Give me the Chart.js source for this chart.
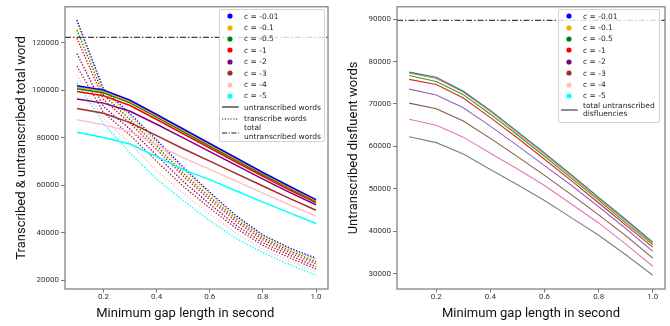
<!DOCTYPE html>
<html>
<head>
<meta charset="utf-8">
<script src="https://cdn.jsdelivr.net/npm/chart.js@4.4.1/dist/chart.umd.min.js"></script>
<style>
  body { margin: 0; background: #fff; width: 670px; height: 326px; overflow: hidden; position: relative; }
  .panel { position: absolute; top: 0; width: 335px; height: 326px; }
  .legend {
    position: absolute; box-sizing: border-box;
    border: 1px solid #d4d4d4; border-radius: 2px;
    background: rgba(255, 255, 255, 0.8);
    font-family: "DejaVu Sans"; font-size: 7.5px; color: #262626;
  }
  .row { display: flex; align-items: center; height: 11.4px; white-space: nowrap; }
  .row svg { flex: none; }
  .row.two { height: auto; line-height: 8.6px; }
</style>
</head>
<body>
<div class="panel" style="left:0"><canvas id="left" width="335" height="326"></canvas></div>
<div class="panel" style="left:335px"><canvas id="right" width="335" height="326"></canvas></div>
<div class="legend" id="legendLeft" style="left:219px; top:9px; width:106px; height:133px; padding-top:0.5px"></div>
<div class="legend" id="legendRight" style="left:558px; top:9px; width:102px; height:114px; padding-top:0.5px"></div>

<script>
// ================= DATA =================
const gapLengths = [0.1, 0.2, 0.3, 0.4, 0.5, 0.6, 0.7, 0.8, 0.9, 1.0];
const cLabels = ["c = -0.01", "c = -0.1", "c = -0.5", "c = -1", "c = -2", "c = -3", "c = -4", "c = -5"];
const xTicks = [0.2, 0.4, 0.6, 0.8, 1.0];
const yTicksLeft = [20000, 40000, 60000, 80000, 100000, 120000];
const yTicksRight = [30000, 40000, 50000, 60000, 70000, 80000, 90000];

// left panel : untranscribed words (solid)
const untr_001 = [101800, 100000, 95700, 89700, 83600, 77500, 71400, 65300, 59500, 53900];
const untr_01  = [101300, 99500, 95200, 89200, 83100, 77000, 70900, 64900, 59000, 53500];
const untr_05  = [100600, 98900, 94600, 88600, 82500, 76400, 70400, 64400, 58600, 53100];
const untr_1   = [99400, 97600, 93500, 87600, 81600, 75600, 69600, 63700, 57900, 52600];
const untr_2   = [96200, 94500, 91100, 85600, 79900, 74100, 68300, 62500, 56900, 51700];
const untr_3   = [92200, 90200, 86300, 80800, 75300, 70100, 64800, 59600, 54400, 49400];
const untr_4   = [87500, 85400, 82500, 76900, 71500, 66600, 61600, 56600, 51700, 46900];
const untr_5   = [82200, 80000, 77300, 72000, 66500, 62300, 57500, 52800, 48300, 43800];

// left panel : transcribed words (dotted)
const tr_001 = [129500, 100500, 90000, 79000, 67500, 57000, 47000, 39000, 33500, 29200];
const tr_01  = [128500, 99500, 89000, 78000, 66500, 56300, 46300, 38500, 33000, 28500];
const tr_05  = [125300, 98000, 87500, 76500, 65000, 55000, 45500, 37800, 32300, 27700];
const tr_1   = [121800, 96000, 86000, 75000, 63800, 53800, 44500, 36900, 31500, 26800];
const tr_2   = [115300, 93000, 83500, 72500, 61500, 52000, 43000, 35700, 30500, 25600];
const tr_3   = [110000, 90500, 81000, 70000, 59500, 50300, 41700, 34600, 29400, 24600];
const tr_4   = [106200, 88000, 77500, 66000, 56500, 47800, 39700, 33000, 28000, 23400];
const tr_5   = [103000, 86000, 73500, 62500, 53500, 45000, 37500, 31500, 26500, 22000];

// right panel : untranscribed disfluent words
const dis_001 = [77500, 76300, 73000, 68500, 63500, 58500, 53300, 48000, 42800, 37500];
const dis_01  = [77300, 76000, 72800, 68200, 63200, 58200, 53000, 47700, 42500, 37200];
const dis_05  = [76700, 75300, 72200, 67600, 62700, 57700, 52500, 47300, 42000, 36900];
const dis_1   = [75800, 74600, 71400, 66800, 62000, 57000, 51900, 46700, 41500, 36300];
const dis_2   = [73500, 72100, 69100, 64800, 60200, 55500, 50800, 45800, 40700, 35300];
const dis_3   = [70200, 68900, 66000, 61900, 57600, 53200, 48600, 43900, 39000, 33700];
const dis_4   = [66400, 65000, 62200, 58400, 54700, 50800, 46400, 42000, 37000, 31800];
const dis_5   = [62300, 60900, 58200, 54600, 51000, 47300, 43200, 39100, 34500, 29700];

const totalUntranscribedWords = 122200;
const totalUntranscribedDisfluencies = 89700;

const untranscribed = [untr_001, untr_01, untr_05, untr_1, untr_2, untr_3, untr_4, untr_5];
const transcribed = [tr_001, tr_01, tr_05, tr_1, tr_2, tr_3, tr_4, tr_5];
const disfluent = [dis_001, dis_01, dis_05, dis_1, dis_2, dis_3, dis_4, dis_5];

// colours
const namedColors = ["#0000ff", "#ffa500", "#008000", "#ff0000", "#800080", "#a52a2a", "#ffc0cb", "#00ffff"];
const tabColors = ["#1f77b4", "#ff7f0e", "#2ca02c", "#d62728", "#9467bd", "#8c564b", "#e377c2", "#7f7f7f"];

const X_MIN = 0.055, X_MAX = 1.045;

Chart.defaults.font.family = "Roboto";
Chart.defaults.color = "#333";

const toPoints = arr => gapLengths.map((x, i) => ({ x: x, y: arr[i] }));
const hline = v => [{ x: X_MIN, y: v }, { x: X_MAX, y: v }];

// frame around plot area (matplotlib spines)
const frame = {
  id: "frame",
  afterDraw(chart) {
    const a = chart.chartArea, ctx = chart.ctx;
    ctx.save();
    ctx.strokeStyle = "#7a7a7a";
    ctx.lineWidth = 1.2;
    ctx.strokeRect(a.left, a.top, a.right - a.left, a.bottom - a.top);
    ctx.restore();
  }
};

function makeOptions(yMin, yMax, yTicks, yWidth, rightPad, yTitle, xTitle) {
  return {
    responsive: false,
    animation: false,
    layout: { padding: { left: 0, right: rightPad, top: 5, bottom: 0 } },
    plugins: { legend: { display: false }, tooltip: { enabled: false } },
    elements: { point: { radius: 0 }, line: { tension: 0 } },
    scales: {
      x: {
        type: "linear", min: X_MIN, max: X_MAX,
        afterBuildTicks: s => { s.ticks = xTicks.map(v => ({ value: v })); },
        afterFit: s => { s.height = 37; },
        ticks: { autoSkip: false, maxRotation: 0, padding: 0, font: { size: 8 }, callback: v => v.toFixed(1) },
        grid: { display: true, drawOnChartArea: false, tickLength: 3.5, color: "#7a7a7a" },
        border: { display: false },
        title: { display: true, text: xTitle, color: "#111", font: { size: 13 }, padding: { top: 0, bottom: 4.5 } }
      },
      y: {
        type: "linear", min: yMin, max: yMax,
        afterBuildTicks: s => { s.ticks = yTicks.map(v => ({ value: v })); },
        afterFit: s => { s.width = yWidth; },
        ticks: { autoSkip: false, padding: 2, font: { size: 8 }, callback: v => String(v) },
        grid: { display: true, drawOnChartArea: false, tickLength: 4, color: "#7a7a7a" },
        border: { display: false },
        title: { display: true, text: yTitle.text, color: "#111", font: { size: 13 }, padding: { top: yTitle.pad, bottom: 0 } }
      }
    }
  };
}

// ================= LEFT CHART =================
const leftSets = [];
untranscribed.forEach((arr, i) => {
  leftSets.push({ data: toPoints(arr), borderColor: namedColors[i], borderWidth: 1.5 });
});
transcribed.forEach((arr, i) => {
  leftSets.push({ data: toPoints(arr), borderColor: namedColors[i], borderWidth: 1.4, borderDash: [1.3, 1.7] });
});
leftSets.push({ data: hline(totalUntranscribedWords), borderColor: "#404040", borderWidth: 1.3, borderDash: [6, 2, 1.5, 2] });

new Chart(document.getElementById("left"), {
  type: "line",
  data: { datasets: leftSets },
  options: makeOptions(16234, 135063, yTicksLeft, 65, 7,
    { text: "Transcribed & untranscribed total word", pad: 13.7 },
    "Minimum gap length in second\u00a0\u00a0\u00a0\u00a0\u00a0\u00a0\u00a0"),
  plugins: [frame]
});

// ================= RIGHT CHART =================
const rightSets = disfluent.map((arr, i) => ({ data: toPoints(arr), borderColor: tabColors[i], borderWidth: 1.1 }));
rightSets.push({ data: hline(totalUntranscribedDisfluencies), borderColor: "#404040", borderWidth: 1.3, borderDash: [6, 2, 1.5, 2] });

new Chart(document.getElementById("right"), {
  type: "line",
  data: { datasets: rightSets },
  options: makeOptions(26450, 92877, yTicksRight, 62, 5,
    { text: "Untranscribed disfluent words", pad: 10.5 },
    "Minimum gap length in second"),
  plugins: [frame]
});

// ================= LEGENDS =================
function handle(kind, color) {
  let inner;
  if (kind === "dot") inner = `<circle cx="10" cy="5" r="2.6" fill="${color}"/>`;
  else if (kind === "dotted") inner = `<line x1="2" y1="5" x2="18.7" y2="5" stroke="${color}" stroke-width="1.1" stroke-dasharray="1.2,1.6"/>`;
  else if (kind === "dashdot") inner = `<line x1="2" y1="5" x2="18.7" y2="5" stroke="${color}" stroke-width="1.2" stroke-dasharray="5,1.6,1.2,1.6"/>`;
  else inner = `<line x1="2" y1="5" x2="18.7" y2="5" stroke="${color}" stroke-width="1.2"/>`;
  return `<svg width="24" height="10">${inner}</svg>`;
}

function buildLegend(el, items) {
  items.forEach(it => {
    const two = it.label.includes("\n");
    el.innerHTML += `<div class="row${two ? " two" : ""}">${handle(it.kind, it.color)}<span>${it.label.replace("\n", "<br>")}</span></div>`;
  });
}

const dotItems = cLabels.map((l, i) => ({ label: l, kind: "dot", color: namedColors[i] }));

buildLegend(document.getElementById("legendLeft"), dotItems.concat([
  { label: "untranscribed words", kind: "solid", color: "#222" },
  { label: "transcribe words", kind: "dotted", color: "#222" },
  { label: "total\nuntranscribed words", kind: "dashdot", color: "#222" }
]));

buildLegend(document.getElementById("legendRight"), dotItems.concat([
  { label: "total untranscribed\ndisfluencies", kind: "solid", color: "#444" }
]));
</script>
</body>
</html>
